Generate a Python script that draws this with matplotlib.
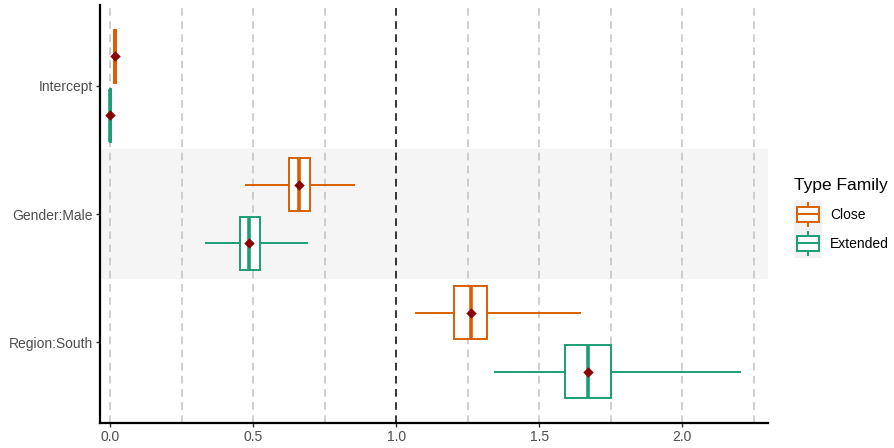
import numpy as np
import matplotlib.pyplot as plt
from matplotlib.legend_handler import HandlerBase
from matplotlib.patches import Rectangle
from matplotlib.lines import Line2D

plt.rcParams['font.family'] = ['Liberation Sans', 'DejaVu Sans']

# odds-ratio summaries per term and family type
terms = ['Intercept', 'Gender:Male', 'Region:South']
families = ['Close', 'Extended']
colors = {'Close': '#D95F02', 'Extended': '#1B9E77'}

whislo = {'Close': [0.010, 0.476, 1.068], 'Extended': [-0.002, 0.335, 1.346]}
q1 = {'Close': [0.013, 0.625, 1.204], 'Extended': [-0.001, 0.456, 1.590]}
med = {'Close': [0.018, 0.662, 1.262], 'Extended': [0.001, 0.487, 1.670]}
q3 = {'Close': [0.022, 0.700, 1.319], 'Extended': [0.003, 0.525, 1.752]}
whishi = {'Close': [0.026, 0.853, 1.644], 'Extended': [0.004, 0.688, 2.203]}
means = {'Close': [0.018, 0.662, 1.262], 'Extended': [0.001, 0.487, 1.670]}

offset = {'Close': -0.23, 'Extended': 0.23}
box_h = 0.41

fig = plt.figure(figsize=(8.94, 4.48), dpi=100)
ax = fig.add_axes([100 / 894, 1 - 423 / 448, 668 / 894, 418 / 448])

ypos = np.arange(len(terms))

# shaded band behind the middle term
ax.axhspan(1 - 0.51, 1 + 0.51, color='#F5F5F5', zorder=0, lw=0)

# dashed reference lines
for xv in np.arange(0, 2.3, 0.25):
    if np.isclose(xv, 1.0):
        ax.axvline(xv, color='black', lw=1.1, ls=(0, (5, 3.6)), zorder=1)
    else:
        ax.axvline(xv, color='#C2C2C2', lw=1.1, ls=(0, (5, 3.6)), zorder=1)

for fam in families:
    c = colors[fam]
    stats = []
    for i in range(len(terms)):
        stats.append(dict(whislo=whislo[fam][i], q1=q1[fam][i], med=med[fam][i],
                          q3=q3[fam][i], whishi=whishi[fam][i], fliers=[]))
    ax.bxp(stats, positions=ypos + offset[fam], widths=box_h,
           orientation='horizontal', showcaps=False, showfliers=False,
           patch_artist=True, manage_ticks=False,
           boxprops=dict(facecolor='white', edgecolor=c, lw=1.4),
           whiskerprops=dict(color=c, lw=1.4),
           medianprops=dict(color=c, lw=2.6, solid_capstyle='butt'),
           zorder=3)
    ax.scatter(means[fam], ypos + offset[fam], marker='D', s=28,
               color='#8B0000', zorder=5, lw=0)

ax.set_xlim(-0.035, 2.30)
ax.set_ylim(2.63, -0.63)
ax.set_yticks(ypos)
ax.set_yticklabels(terms)
ax.set_xticks([0.0, 0.5, 1.0, 1.5, 2.0])
ax.set_xticklabels(['0.0', '0.5', '1.0', '1.5', '2.0'])
ax.tick_params(axis='both', labelsize=10, labelcolor='#4D4D4D', color='#333333',
               length=3, width=1, pad=2.2)

for side in ['top', 'right']:
    ax.spines[side].set_visible(False)
for side in ['left', 'bottom']:
    ax.spines[side].set_linewidth(1.6)
    ax.spines[side].set_color('black')


class BoxKey(HandlerBase):
    # small vertical boxplot glyph on a grey key background
    def create_artists(self, legend, orig_handle, xdescent, ydescent,
                       width, height, fontsize, trans):
        c = orig_handle.get_color()
        x0, y0 = -xdescent, -ydescent
        bg = Rectangle((x0, y0), width, height, facecolor='#F2F2F2',
                       edgecolor='none', transform=trans)
        cx = x0 + width / 2
        blo, bhi = y0 + height * 0.25, y0 + height * 0.77
        bx = Rectangle((x0 + width * 0.1, blo), width * 0.8, bhi - blo,
                       facecolor='white', edgecolor=c, lw=1.4, transform=trans)
        m = Line2D([x0 + width * 0.1, x0 + width * 0.9], [(blo + bhi) / 2] * 2,
                   color=c, lw=1.4, transform=trans)
        w1 = Line2D([cx, cx], [y0 + height * 0.1, blo], color=c, lw=1.4,
                    transform=trans)
        w2 = Line2D([cx, cx], [bhi, y0 + height * 0.9], color=c, lw=1.4,
                    transform=trans)
        return [bg, bx, m, w1, w2]


handles = [Line2D([], [], color=colors[f]) for f in families]
leg = fig.legend(handles, families, title='Type Family', loc='center left',
                 bbox_to_anchor=(794 / 894, 1 - 218 / 448), frameon=False,
                 handler_map={Line2D: BoxKey()}, handlelength=2.0,
                 handleheight=2.84, handletextpad=0.58, labelspacing=0.0,
                 borderpad=0, borderaxespad=0, fontsize=10,
                 title_fontsize=12.5)
leg._legend_box.align = 'left'
leg._legend_box.sep = 5

fig.savefig('out.png', dpi=100)
